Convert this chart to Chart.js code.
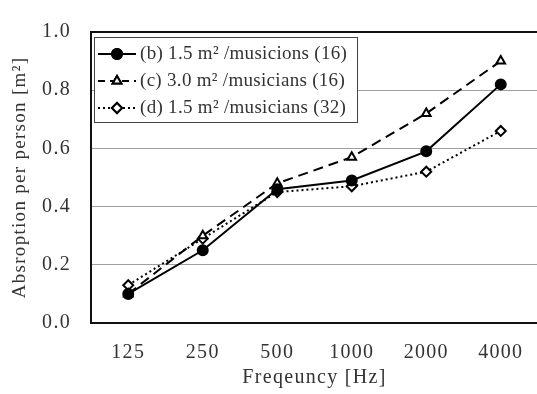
<!DOCTYPE html>
<html>
<head>
<meta charset="utf-8">
<script src="https://cdn.jsdelivr.net/npm/chart.js@4/dist/chart.umd.min.js"></script>
<style>
  html, body { margin: 0; padding: 0; background: #fff; }
  #wrap { width: 537px; height: 394px; overflow: hidden; }
</style>
</head>
<body>
<div id="wrap"><canvas id="myChart" width="545" height="394"></canvas></div>
<script>
'use strict';
// data
const frequencies = ['125', '250', '500', '1000', '2000', '4000'];
const seriesNames = [
  '(b) 1.5 m\u00b2 /musicions (16)',
  '(c) 3.0 m\u00b2 /musicians (16)',
  '(d) 1.5 m\u00b2 /musicians (32)'
];
const valuesB = [0.10, 0.25, 0.46, 0.49, 0.59, 0.82];
const valuesC = [0.10, 0.30, 0.48, 0.57, 0.72, 0.90];
const valuesD = [0.13, 0.29, 0.45, 0.47, 0.52, 0.66];
const yTicks = [0, 0.2, 0.4, 0.6, 0.8, 1.0];

const serif = '"Liberation Serif", "Times New Roman", serif';
const textColor = '#333';
const axisSpacing = '1.3px'; // reference text is a bit wider than the font

// spread axis text a little (set again after canvas resets)
const spacingPlugin = {
  id: 'spacing',
  beforeUpdate(chart) { chart.ctx.letterSpacing = axisSpacing; },
  beforeLayout(chart) { chart.ctx.letterSpacing = axisSpacing; },
  beforeDraw(chart) { chart.ctx.letterSpacing = axisSpacing; }
};

// frame round the plot area + boxed legend in the top left corner
const framePlugin = {
  id: 'frame',
  afterDraw(chart) {
    const ctx = chart.ctx;
    const a = chart.chartArea;
    ctx.save();
    ctx.strokeStyle = '#111';
    ctx.lineWidth = 2;
    ctx.strokeRect(a.left, a.top, a.right - a.left, a.bottom - a.top);

    // legend
    const bx = a.left + 3, by = a.top + 5, bw = 263, bh = 85;
    ctx.fillStyle = '#fff';
    ctx.fillRect(bx, by, bw, bh);
    ctx.strokeStyle = '#444';
    ctx.lineWidth = 1;
    ctx.strokeRect(bx + 0.5, by + 0.5, bw, bh);

    chart.data.datasets.forEach((ds, i) => {
      const y = by + 17 + i * 27;
      ctx.strokeStyle = '#000';
      ctx.lineWidth = 2;
      ctx.setLineDash(i === 1 ? [7, 5] : (ds.borderDash || []));
      ctx.beginPath();
      ctx.moveTo(bx + 4, y);
      ctx.lineTo(bx + 42, y);
      ctx.stroke();
      ctx.setLineDash([]);
      Chart.helpers.drawPoint(ctx, {
        pointStyle: ds.pointStyle,
        radius: ds.pointRadius,
        borderWidth: 2
      }, bx + 23, y);
      ctx.fillStyle = ds.pointBackgroundColor;
      ctx.fill();
      ctx.stroke();
      ctx.fillStyle = textColor;
      ctx.font = '19px ' + serif;
      ctx.letterSpacing = '0.3px';
      ctx.textBaseline = 'middle';
      ctx.textAlign = 'left';
      ctx.fillText(ds.label, bx + 46, y);
    });
    ctx.restore();
  }
};

const ctx = document.getElementById('myChart').getContext('2d');
new Chart(ctx, {
  type: 'line',
  data: {
    labels: frequencies,
    datasets: [
      {
        label: seriesNames[0],
        data: valuesB,
        borderColor: '#000',
        borderWidth: 2,
        pointStyle: 'circle',
        pointRadius: 5,
        pointBackgroundColor: '#000',
        pointBorderColor: '#000',
        pointBorderWidth: 2
      },
      {
        label: seriesNames[1],
        data: valuesC,
        borderColor: '#000',
        borderWidth: 2,
        borderDash: [10, 6],
        pointStyle: 'triangle',
        pointRadius: 5,
        pointBackgroundColor: '#fff',
        pointBorderColor: '#000',
        pointBorderWidth: 2
      },
      {
        label: seriesNames[2],
        data: valuesD,
        borderColor: '#000',
        borderWidth: 2,
        borderDash: [2, 3],
        pointStyle: 'rectRot',
        pointRadius: 5,
        pointBackgroundColor: '#fff',
        pointBorderColor: '#000',
        pointBorderWidth: 2
      }
    ]
  },
  options: {
    responsive: false,
    animation: false,
    layout: { padding: { top: 22, left: 0, right: 0, bottom: 0 } },
    plugins: { legend: { display: false }, tooltip: { enabled: false } },
    elements: { line: { tension: 0, fill: false } },
    scales: {
      x: {
        offset: true,
        grid: { display: false, drawTicks: false },
        border: { display: false },
        ticks: { color: textColor, font: { family: serif, size: 20 }, padding: 18 },
        title: {
          display: true,
          text: 'Freqeuncy [Hz]',
          color: textColor,
          font: { family: serif, size: 20 },
          padding: { top: 0, bottom: 4 }
        },
        afterFit(scale) { scale.height = 71; }
      },
      y: {
        min: 0,
        max: 1,
        afterBuildTicks(scale) { scale.ticks = yTicks.map(v => ({ value: v })); },
        grid: { color: '#a0a0a0', lineWidth: 1, drawTicks: false },
        border: { display: false },
        ticks: {
          color: textColor,
          font: { family: serif, size: 20 },
          padding: 20,
          callback: v => v.toFixed(1)
        },
        title: {
          display: true,
          text: 'Absroption per person [m\u00b2]',
          color: textColor,
          font: { family: serif, size: 19 },
          padding: { top: 9, bottom: 0 }
        },
        afterFit(scale) { scale.width = 91; }
      }
    }
  },
  plugins: [spacingPlugin, framePlugin]
});
</script>
</body>
</html>
